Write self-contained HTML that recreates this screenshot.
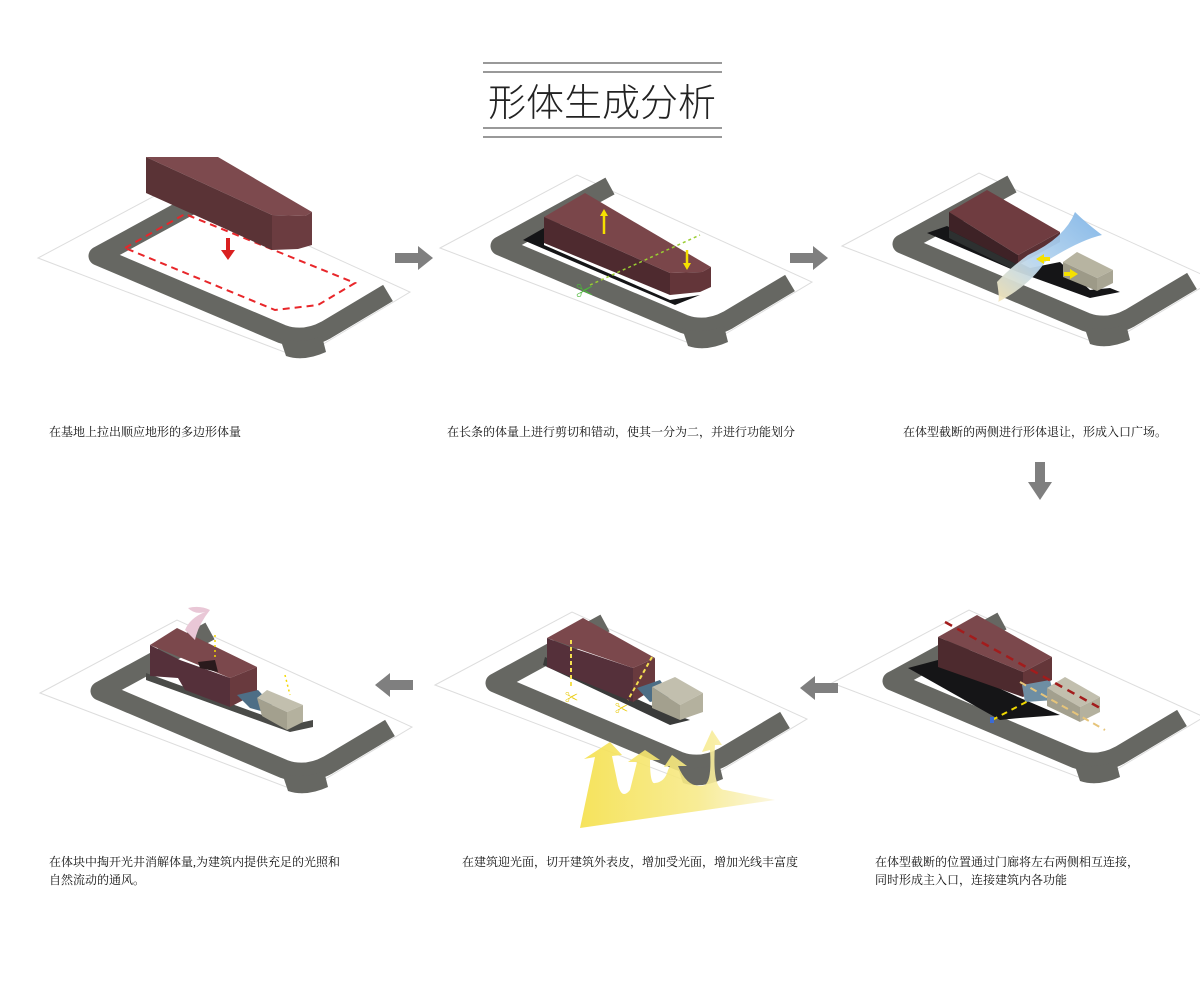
<!DOCTYPE html>
<html><head><meta charset="utf-8">
<style>
html,body{margin:0;padding:0;background:#fff;}
body{width:1200px;height:1000px;position:relative;overflow:hidden;font-family:"Liberation Serif","Noto Serif CJK SC",serif;}
.t{position:absolute;font-size:12px;color:#111;line-height:18px;white-space:nowrap;}
</style></head><body>
<svg width="1200" height="1000" viewBox="0 0 1200 1000" style="position:absolute;left:0;top:0">
<defs>
<linearGradient id="ly" x1="0" y1="0" x2="1" y2="0">
<stop offset="0" stop-color="#f5e04a"/><stop offset="0.6" stop-color="#f7ea8a"/><stop offset="1" stop-color="#fbf6dc"/></linearGradient>
<linearGradient id="wind" x1="0" y1="1" x2="1" y2="0">
<stop offset="0" stop-color="#f6e6b8"/><stop offset="0.4" stop-color="#b9d6ef"/><stop offset="1" stop-color="#7fb4e6"/></linearGradient>
<g id="site">
<polygon points="38,258 175,185 410,292 300,358" fill="#fff" stroke="#ddd" stroke-width="1"/>
<path d="M208,196 L98,256 L282,334 Q304,342 326,330 L388,293" fill="none" stroke="#666762" stroke-width="19" stroke-linejoin="round"/>
<path d="M280,338 Q300,345 322,336 L326,352 Q304,362 286,356 Z" fill="#666762"/>
</g>
</defs>

<!-- title -->
<line x1="483" y1="63" x2="722" y2="63" stroke="#333" stroke-width="1"/>
<line x1="483" y1="72" x2="722" y2="72" stroke="#333" stroke-width="1"/>
<line x1="483" y1="128" x2="722" y2="128" stroke="#333" stroke-width="1"/>
<line x1="483" y1="137" x2="722" y2="137" stroke="#333" stroke-width="1"/>
<text x="602" y="116" text-anchor="middle" font-family="Liberation Sans, Noto Sans CJK SC, sans-serif" font-size="38" font-weight="300" fill="#222">形体生成分析</text>

<!-- panel 1 -->
<use href="#site"/>
<polygon points="125,248 185,214 355,283 318,305 275,310" fill="none" stroke="#e8262a" stroke-width="2" stroke-dasharray="7,5"/>
<polygon points="146,157 218,157 312,212 305,216 272,215" fill="#7d4a4e"/>
<polygon points="146,157 272,215 272,250 146,193" fill="#5a3336"/>
<polygon points="272,215 305,216 312,212 312,245 298,249 272,250" fill="#6b3c40"/>
<rect x="226" y="238" width="4" height="12" fill="#d92020"/>
<polygon points="221,250 235,250 228,260" fill="#d92020"/>

<!-- panel 2 -->
<use href="#site" transform="translate(402,-10)"/>
<polygon points="523,240 544,228 544,245 670,300 700,295 675,305" fill="#151517"/>
<polygon points="544,217 585,193 711,267 702,272 670,273" fill="#7a464a"/>
<polygon points="544,217 670,273 670,295 544,243" fill="#4e2a2f"/>
<polygon points="670,273 702,272 711,267 711,287 700,292 670,295" fill="#633539"/>
<line x1="590" y1="285" x2="700" y2="235" stroke="#9acd32" stroke-width="1.5" stroke-dasharray="3,3"/>
<text x="576" y="297" font-size="17" fill="#4cb83a">✂</text>
<line x1="604" y1="234" x2="604" y2="214" stroke="#f5e000" stroke-width="2.5"/>
<polygon points="600,216 608,216 604,209" fill="#f5e000"/>
<line x1="687" y1="250" x2="687" y2="264" stroke="#f5e000" stroke-width="2.5"/>
<polygon points="683,263 691,263 687,270" fill="#f5e000"/>

<!-- panel 3 -->
<use href="#site" transform="translate(804,-12)"/>
<polygon points="927,233 947,226 1030,268 1060,262 1090,290 1110,288 1120,292 1090,298 1018,272" fill="#151517"/>
<polygon points="949,212 987,190 1060,232 1018,255" fill="#6f3c40"/>
<polygon points="949,212 1018,255 1018,265 949,230" fill="#3e2226"/>
<polygon points="949,230 1018,265 1018,272 949,238" fill="#2d3030"/>
<polygon points="1018,255 1060,232 1060,242 1018,265" fill="#5a3034"/>
<polygon points="1063,262 1077,252 1113,270 1097,278" fill="#b7b4a1"/>
<polygon points="1063,262 1097,278 1097,291 1063,277" fill="#9d9a88"/>
<polygon points="1097,278 1113,270 1113,283 1097,291" fill="#a8a593"/>
<path d="M997,282 Q1000,300 998,302 Q1030,285 1045,262 Q1080,240 1102,235 Q1085,222 1075,212 Q1065,238 1028,255 Q1010,268 997,282 Z" fill="url(#wind)" opacity="0.95"/>
<polygon points="1036,259 1044,254 1044,257 1050,257 1050,261 1044,261 1044,264" fill="#f5e000"/>
<polygon points="1078,274 1070,269 1070,272 1064,272 1064,276 1070,276 1070,279" fill="#f5e000"/>

<!-- panel 6 -->
<use href="#site" transform="translate(794,425)"/>
<polygon points="908,668 938,660 1018,697 1060,715 1020,718 1000,720" fill="#151517"/>
<polygon points="938,637 977,615 1052,657 1023,672" fill="#7b484c"/>
<polygon points="938,637 1023,672 1023,697 938,667" fill="#4d2a2e"/>
<polygon points="1023,672 1052,657 1052,680 1023,697" fill="#643639"/>
<polygon points="1022,685 1050,680 1055,700 1025,702" fill="#6e8ea3"/>
<polygon points="1047,688 1065,677 1100,697 1080,707" fill="#c2bfae"/>
<polygon points="1047,688 1080,707 1080,722 1047,706" fill="#a3a08e"/>
<polygon points="1080,707 1100,697 1100,712 1080,722" fill="#b4b19e"/>
<line x1="945" y1="622" x2="1100" y2="708" stroke="#a31c1c" stroke-width="2.5" stroke-dasharray="8,6"/>
<line x1="1020" y1="682" x2="1105" y2="730" stroke="#e6c47a" stroke-width="2" stroke-dasharray="7,5"/>
<line x1="992" y1="720" x2="1030" y2="700" stroke="#f0d800" stroke-width="2" stroke-dasharray="6,5"/>
<rect x="990" y="717" width="4" height="6" fill="#3a6bd6"/>

<!-- panel 5 -->
<use href="#site" transform="translate(397,427)"/>
<polygon points="543,665 545,657 650,705 690,720 670,725" fill="#3a3b3a"/>
<polygon points="547,638 583,618 655,658 633,668" fill="#7b484c"/>
<polygon points="547,638 573,648 633,668 633,702 547,667" fill="#55303a"/>
<polygon points="633,668 655,658 655,688 633,702" fill="#693a3e"/>
<polygon points="637,688 660,680 672,697 650,702" fill="#4d6e86"/>
<polygon points="652,687 675,677 703,693 680,705" fill="#c2bfae"/>
<polygon points="652,687 680,705 680,720 652,708" fill="#a3a08e"/>
<polygon points="680,705 703,693 703,712 680,720" fill="#b4b19e"/>
<line x1="571" y1="640" x2="571" y2="688" stroke="#f5e050" stroke-width="2" stroke-dasharray="4,3"/>
<line x1="652" y1="657" x2="628" y2="700" stroke="#f5e050" stroke-width="2" stroke-dasharray="4,3"/>
<text x="565" y="702" font-size="13" fill="#e8c800">✂</text>
<text x="615" y="713" font-size="13" fill="#e8c800">✂</text>
<path d="M580,828 L595,757 L584,759 L610,742 L622,755 L612,756 L618,785 Q622,800 630,790 L637,762 L628,762 L645,750 L660,760 L650,760 Q650,785 655,783 Q665,782 668,770 L670,766 L664,767 L672,755 L687,766 L678,766 Q688,790 705,785 Q712,780 710,750 L702,752 L712,730 L722,745 L715,745 Q712,790 725,790 L775,800 Z" fill="url(#ly)" opacity="0.9"/>

<!-- panel 4 -->
<use href="#site" transform="translate(2,435)"/>
<polygon points="146,673 146,680 290,732 313,727 313,720 290,725" fill="#4a4b48"/>
<polygon points="150,645 177,628 257,667 230,678" fill="#7b484c"/>
<polygon points="150,645 180,660 230,678 230,707 185,690 178,678 150,676" fill="#55303a"/>
<polygon points="230,678 257,667 257,693 230,707" fill="#693a3e"/>
<polygon points="198,662 215,660 218,672 200,668" fill="#2a1a1c"/>
<polygon points="237,695 258,690 272,705 268,713 250,708" fill="#4d6e86"/>
<polygon points="257,698 267,690 303,705 287,712" fill="#c2bfae"/>
<polygon points="257,698 287,712 287,730 262,716" fill="#a3a08e"/>
<polygon points="287,712 303,705 303,722 287,730" fill="#b4b19e"/>
<path d="M185,630 Q190,618 205,612 Q195,615 188,608 Q200,605 210,610 Q198,625 195,640 Z" fill="#e9c7d6"/>
<line x1="215" y1="635" x2="215" y2="660" stroke="#f5d800" stroke-width="1.5" stroke-dasharray="2,3"/>
<line x1="285" y1="675" x2="290" y2="695" stroke="#f5d800" stroke-width="1.5" stroke-dasharray="2,3"/>

<!-- gray arrows -->
<g fill="#7f7f7f">
<polygon points="395,253 418,253 418,246 433,258 418,270 418,263 395,263"/>
<polygon points="790,253 813,253 813,246 828,258 813,270 813,263 790,263"/>
<polygon points="1035,462 1045,462 1045,482 1052,482 1040,500 1028,482 1035,482"/>
<polygon points="413,680 390,680 390,673 375,685 390,697 390,690 413,690"/>
<polygon points="838,683 815,683 815,676 800,688 815,700 815,693 838,693"/>
</g>
</svg>

<div class="t" style="left:49px;top:423px">在基地上拉出顺应地形的多边形体量</div>
<div class="t" style="left:447px;top:423px">在长条的体量上进行剪切和错动，使其一分为二，并进行功能划分</div>
<div class="t" style="left:903px;top:423px">在体型截断的两侧进行形体退让，形成入口广场。</div>
<div class="t" style="left:49px;top:853px">在体块中掏开光井消解体量,为建筑内提供充足的光照和<br>自然流动的通风。</div>
<div class="t" style="left:462px;top:853px">在建筑迎光面，切开建筑外表皮，增加受光面，增加光线丰富度</div>
<div class="t" style="left:875px;top:853px">在体型截断的位置通过门廊将左右两侧相互连接，<br>同时形成主入口，连接建筑内各功能</div>
</body></html>
